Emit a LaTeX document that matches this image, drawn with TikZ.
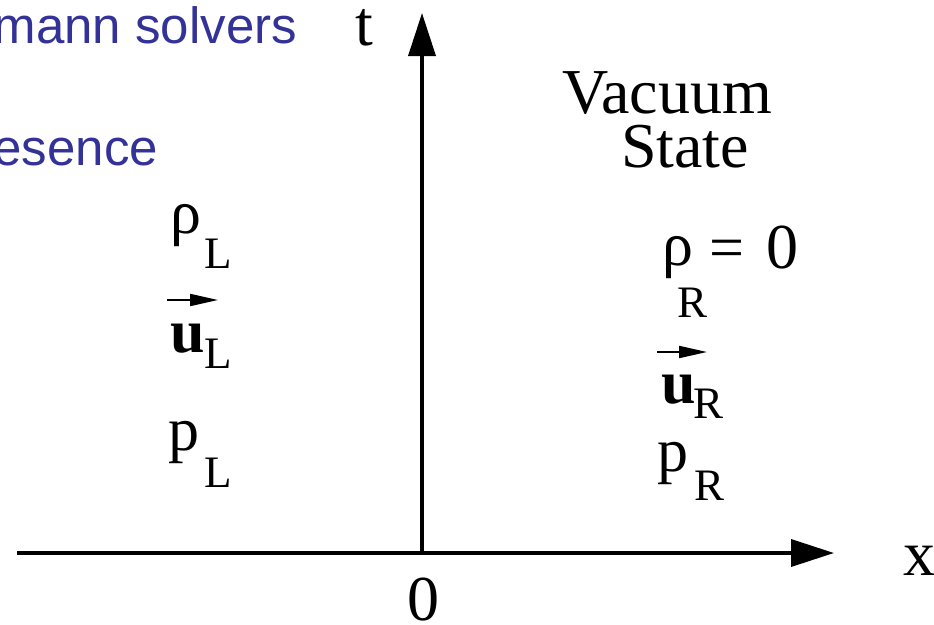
\documentclass[tikz,border=0pt]{standalone}
\usepackage{fontspec}
\setmainfont{Liberation Serif}
\newfontfamily\slidesans{Liberation Sans}
\usetikzlibrary{arrows.meta}
\definecolor{slideblue}{RGB}{50,50,152}
\tikzset{
  lbl/.style={inner sep=0pt, outer sep=0pt, anchor=base west, font=\fontsize{62}{62}\selectfont},
  sub/.style={inner sep=0pt, outer sep=0pt, anchor=base west, font=\fontsize{45}{45}\selectfont},
  title/.style={inner sep=0pt, outer sep=0pt, anchor=base east, text=slideblue, font=\slidesans\fontsize{51}{51}\selectfont},
  axis/.style={line width=3.6pt, -{Triangle[length=43pt,width=27pt]}},
  vec/.style={line width=2pt, -{Triangle[length=28pt,width=12pt]}}
}
\begin{document}
\begin{tikzpicture}[x=1pt,y=-1pt]
\useasboundingbox (0,0) rectangle (934,624);
% slide text (cut off at left)
\node[title] (t1) at (297,43) {mann solvers};
\node[title] (t2) at (158,165) {esence};
% axes
\coordinate (o) at (422,553);
\coordinate (xs) at (17,553);
\coordinate (xe) at (834,553);
\coordinate (te) at (422,13);
\draw[line width=3.6pt] (xs) -- (o);
\draw[axis] (o) -- (xe);
\draw[axis] (o) -- (te);
\node[lbl, font=\fontsize{64}{64}\selectfont] (tl) at (355,45) {t};
\node[lbl, font=\fontsize{64}{64}\selectfont] (xl) at (903,575) {x};
\node[lbl, font=\fontsize{64}{64}\selectfont] (zl) at (407,620) {0};
% left state
\node[lbl] (rhoL) at (170,233) {ρ};
\node[sub] (rhoLs) at (204,268) {L};
\coordinate (uLa) at (167,300);
\coordinate (uLb) at (218,300);
\draw[vec] (uLa) -- (uLb);
\node[lbl, font=\bfseries\fontsize{62}{62}\selectfont] (uL) at (170,352) {u};
\node[sub] (uLs) at (204,368) {L};
\node[lbl] (pL) at (168,450) {p};
\node[sub] (pLs) at (204,487) {L};
% right state
\node[lbl, font=\fontsize{64}{64}\selectfont] (vac) at (562,113) {Vacuum};
\node[lbl, font=\fontsize{64}{64}\selectfont] (sta) at (621,167) {State};
\node[lbl] (rhoR) at (662,265) {ρ};
\node[sub] (rhoRs) at (677,317) {R};
\node[lbl] (eq) at (709,268) {=};
\node[lbl, font=\fontsize{64}{64}\selectfont] (zero) at (766,268) {0};
\coordinate (uRa) at (657,352);
\coordinate (uRb) at (707,352);
\draw[vec] (uRa) -- (uRb);
\node[lbl, font=\bfseries\fontsize{62}{62}\selectfont] (uR) at (661,403) {u};
\node[sub] (uRs) at (693,418) {R};
\node[lbl] (pR) at (657,471) {p};
\node[sub] (pRs) at (694,500) {R};
\end{tikzpicture}
\end{document}
